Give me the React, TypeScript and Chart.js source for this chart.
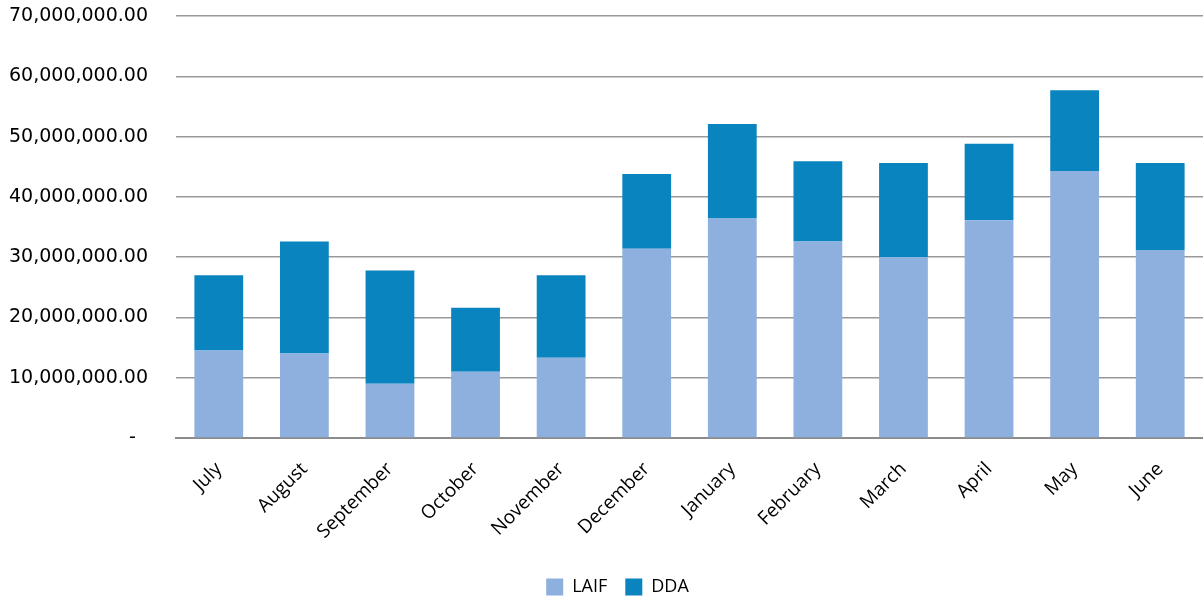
import React, { useEffect, useRef } from "react";
import { Chart, registerables } from "chart.js";

Chart.register(...registerables);

const months = ["July", "August", "September", "October", "November", "December", "January", "February", "March", "April", "May", "June"];
const laif = [14.5, 14.0, 9.0, 11.0, 13.3, 31.4, 36.4, 32.6, 30.0, 36.1, 44.3, 31.1].map((v) => v * 1e6);
const totals = [27.0, 32.6, 27.8, 21.6, 27.0, 43.8, 52.1, 45.9, 45.6, 48.8, 57.7, 45.6].map((v) => v * 1e6);
const dda = totals.map((t, i) => t - laif[i]);

const fmt = (v: number) =>
  v === 0 ? "-  " : v.toLocaleString("en-US", { minimumFractionDigits: 2, maximumFractionDigits: 2 });

const shiftLegend = {
  id: "shiftLegend",
  afterLayout(chart: any) {
    if (chart.legend) {
      chart.legend.left += 16;
      chart.legend.right += 16;
    }
  },
};

export default function App() {
  const ref = useRef<HTMLCanvasElement>(null);
  useEffect(() => {
    const chart = new Chart(ref.current!, {
      type: "bar",
      data: {
        labels: months,
        datasets: [
          { label: "LAIF", data: laif, backgroundColor: "#8DB0DE", barPercentage: 0.57, categoryPercentage: 1 },
          { label: "DDA", data: dda, backgroundColor: "#0984BF", barPercentage: 0.57, categoryPercentage: 1 },
        ],
      },
      plugins: [shiftLegend],
      options: {
        animation: false,
        responsive: false,
        maintainAspectRatio: false,
        layout: { padding: { top: 16, right: 0, left: 0, bottom: -9 } },
        plugins: {
          tooltip: { enabled: false },
          legend: {
            position: "bottom",
            labels: {
              boxWidth: 17,
              boxHeight: 17,
              padding: 18,
              color: "#000",
              font: { family: "'Open Sans', sans-serif", size: 18 },
            },
          },
        },
        scales: {
          x: {
            stacked: true,
            grid: { display: false },
            border: { display: true, color: "#8c8c8c", width: 2 },
            ticks: {
              color: "#000",
              font: { family: "'Open Sans', sans-serif", size: 19 },
              maxRotation: 45,
              minRotation: 45,
              padding: 12,
            },
            afterFit: (s: any) => {
              s.height = 122;
            },
          },
          y: {
            stacked: true,
            min: 0,
            max: 70000000,
            border: { display: false },
            grid: { color: "#999999", lineWidth: 1.5, drawTicks: false },
            ticks: {
              stepSize: 10000000,
              color: "#000",
              padding: 28,
              font: { family: "'DejaVu Sans', sans-serif", size: 19 },
              callback: (v: any) => fmt(Number(v)),
            },
            afterFit: (s: any) => {
              s.width = 176;
              s.paddingTop = 0;
              s.paddingBottom = 0;
            },
          },
        },
      },
    });
    return () => chart.destroy();
  }, []);
  return (
    <div style={{ position: "absolute", left: 0, top: 0, width: 1203, height: 597, background: "#fff" }}>
      <canvas ref={ref} width={1203} height={597} />
    </div>
  );
}
